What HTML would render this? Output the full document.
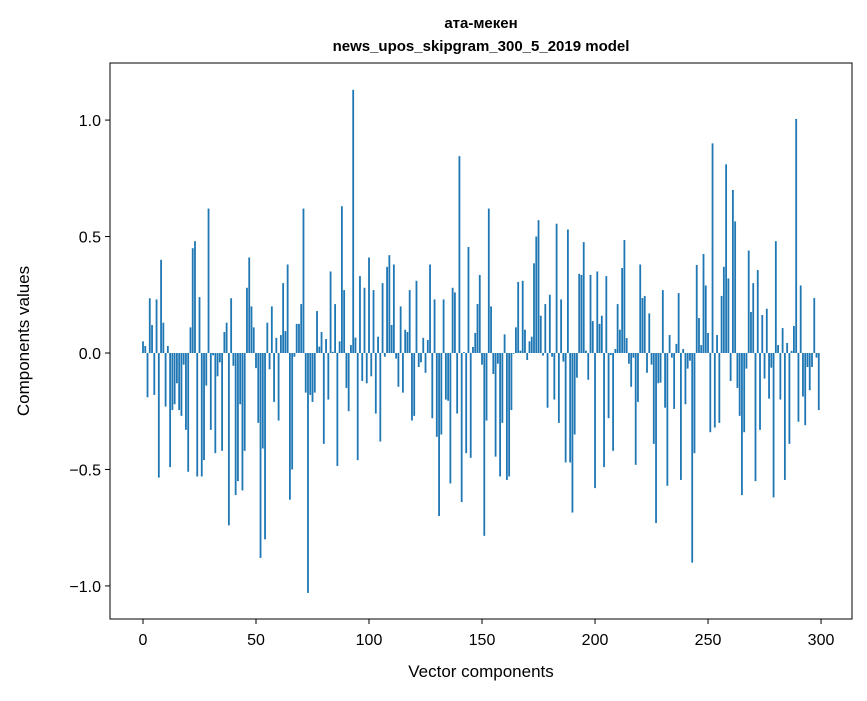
<!DOCTYPE html>
<html><head><meta charset="utf-8"><style>
body{margin:0;background:#fff;}
svg text{font-family:"Liberation Sans","DejaVu Sans",sans-serif;fill:#000;}
</style></head><body>
<svg id="chart" width="867" height="696" xmlns="http://www.w3.org/2000/svg">
<rect x="0" y="0" width="867" height="696" fill="#fff"/>
<text x="481" y="28" text-anchor="middle" font-size="15" font-weight="bold">ата-мекен</text>
<text x="481" y="51" text-anchor="middle" font-size="15" font-weight="bold">news_upos_skipgram_300_5_2019 model</text>
<g id="bars"></g>
<g id="axes"></g>
<text x="481" y="677" text-anchor="middle" font-size="17">Vector components</text>
<text x="29" y="341" text-anchor="middle" font-size="17" transform="rotate(-90 29 341)">Components values</text>
</svg>
<script>
const values = [
0.05,0.03,-0.19,0.235,0.12,-0.18,0.23,-0.535,0.40,0.13,
-0.23,0.03,-0.49,-0.245,-0.22,-0.13,-0.245,-0.27,-0.05,-0.33,
-0.51,0.11,0.45,0.48,-0.53,0.24,-0.53,-0.46,-0.14,0.62,
-0.33,-0.01,-0.43,-0.10,-0.04,-0.42,0.09,0.13,-0.74,0.235,
-0.055,-0.61,-0.55,-0.22,-0.59,-0.42,0.28,0.41,0.20,0.11,
-0.065,-0.30,-0.88,-0.41,-0.80,0.13,-0.07,0.20,-0.21,0.065,
-0.29,0.077,0.30,0.094,0.38,-0.63,-0.50,-0.016,0.125,0.125,
0.21,0.62,-0.17,-1.03,-0.18,-0.21,-0.17,0.18,0.027,0.09,
-0.39,0.06,-0.20,0.35,0.005,0.21,-0.485,0.05,0.63,0.27,
-0.15,-0.25,0.034,1.13,0.066,-0.46,0.33,-0.12,0.28,-0.13,
0.41,-0.10,0.27,-0.26,0.07,-0.38,0.30,-0.016,0.37,0.42,
0.12,0.38,-0.024,-0.145,0.20,-0.17,0.10,0.09,0.27,-0.29,
-0.27,0.31,-0.06,-0.04,0.065,-0.085,0.056,0.38,-0.28,0.23,
-0.36,-0.70,-0.35,0.23,-0.20,-0.205,-0.56,0.28,0.26,-0.26,
0.845,-0.64,0.004,-0.43,0.455,-0.45,0.026,0.086,0.21,0.335,
-0.05,-0.785,-0.29,0.62,0.20,-0.09,-0.445,-0.046,-0.53,-0.30,
0.08,-0.545,-0.53,-0.245,-0.003,0.11,0.305,0.01,0.31,0.10,
-0.03,0.05,0.07,0.385,0.50,0.57,0.16,-0.011,0.21,-0.235,
0.25,-0.016,-0.20,0.555,-0.30,0.23,-0.037,-0.47,0.53,-0.47,
-0.685,-0.35,-0.106,0.34,0.335,0.476,0.01,-0.115,0.335,0.137,
-0.58,0.35,0.125,0.16,-0.49,0.33,-0.28,-0.009,-0.42,0.017,
0.21,0.10,0.365,0.485,0.064,-0.046,-0.145,-0.02,-0.48,-0.21,
0.38,0.236,0.245,-0.085,0.17,-0.05,-0.39,-0.73,-0.13,-0.127,
0.27,-0.235,-0.57,0.077,-0.02,-0.24,0.039,0.257,-0.545,0.017,
-0.22,-0.067,-0.033,-0.90,-0.43,0.378,0.15,0.034,0.425,0.29,
0.086,-0.34,0.90,-0.32,0.077,-0.30,0.245,0.37,0.81,0.32,
-0.12,0.70,0.565,-0.15,-0.27,-0.61,-0.34,-0.067,0.44,0.176,
0.30,-0.55,0.356,-0.33,0.163,-0.11,0.19,-0.196,-0.063,-0.62,
0.48,0.034,-0.20,0.107,-0.545,0.043,-0.39,0.009,0.116,1.005,
-0.295,0.29,-0.187,-0.31,-0.06,-0.16,-0.06,0.236,-0.02,-0.245
];
const xTicks = [0,50,100,150,200,250,300];
const yTicks = [-1.0,-0.5,0.0,0.5,1.0];
const yTickLabels = ["\u22121.0","\u22120.5","0.0","0.5","1.0"];

const L=110,R=852,T=63,B=619;
const xMin=-14.6,xMax=313.7,yMin=-1.142,yMax=1.245;
const sx=v=>L+(v-xMin)/(xMax-xMin)*(R-L);
const sy=v=>B-(v-yMin)/(yMax-yMin)*(B-T);
const NS="http://www.w3.org/2000/svg";
const bars=document.getElementById('bars');
values.forEach((v,i)=>{
  const r=document.createElementNS(NS,'rect');
  const x0=sx(i-0.4),x1=sx(i+0.4);
  const y0=sy(Math.max(v,0)),y1=sy(Math.min(v,0));
  r.setAttribute('x',x0);r.setAttribute('width',x1-x0);
  r.setAttribute('y',y0);r.setAttribute('height',Math.max(y1-y0,0.01));
  r.setAttribute('fill','#1f77b4');
  
  
  bars.appendChild(r);
});
const axes=document.getElementById('axes');
const frame=document.createElementNS(NS,'rect');
frame.setAttribute('x',L);frame.setAttribute('y',T);frame.setAttribute('width',R-L);frame.setAttribute('height',B-T);
frame.setAttribute('fill','none');frame.setAttribute('stroke','#000');frame.setAttribute('stroke-width','1');


axes.appendChild(frame);
xTicks.forEach(t=>{
  const x=sx(t);
  const l=document.createElementNS(NS,'line');
  l.setAttribute('x1',x);l.setAttribute('x2',x);l.setAttribute('y1',B);l.setAttribute('y2',B+5);l.setAttribute('stroke','#000');
  
  
  axes.appendChild(l);
  const tx=document.createElementNS(NS,'text');
  tx.setAttribute('x',x);tx.setAttribute('y',B+26);tx.setAttribute('text-anchor','middle');tx.setAttribute('font-size','16');
  tx.textContent=t;
  
  
  axes.appendChild(tx);
});
yTicks.forEach((t,i)=>{
  const y=sy(t);
  const l=document.createElementNS(NS,'line');
  l.setAttribute('x1',L-5);l.setAttribute('x2',L);l.setAttribute('y1',y);l.setAttribute('y2',y);l.setAttribute('stroke','#000');
  
  
  axes.appendChild(l);
  const tx=document.createElementNS(NS,'text');
  tx.setAttribute('x',L-9);tx.setAttribute('y',y+6);tx.setAttribute('text-anchor','end');tx.setAttribute('font-size','16');
  tx.textContent=yTickLabels[i];
  
  
  axes.appendChild(tx);
});
</script>
</body></html>
